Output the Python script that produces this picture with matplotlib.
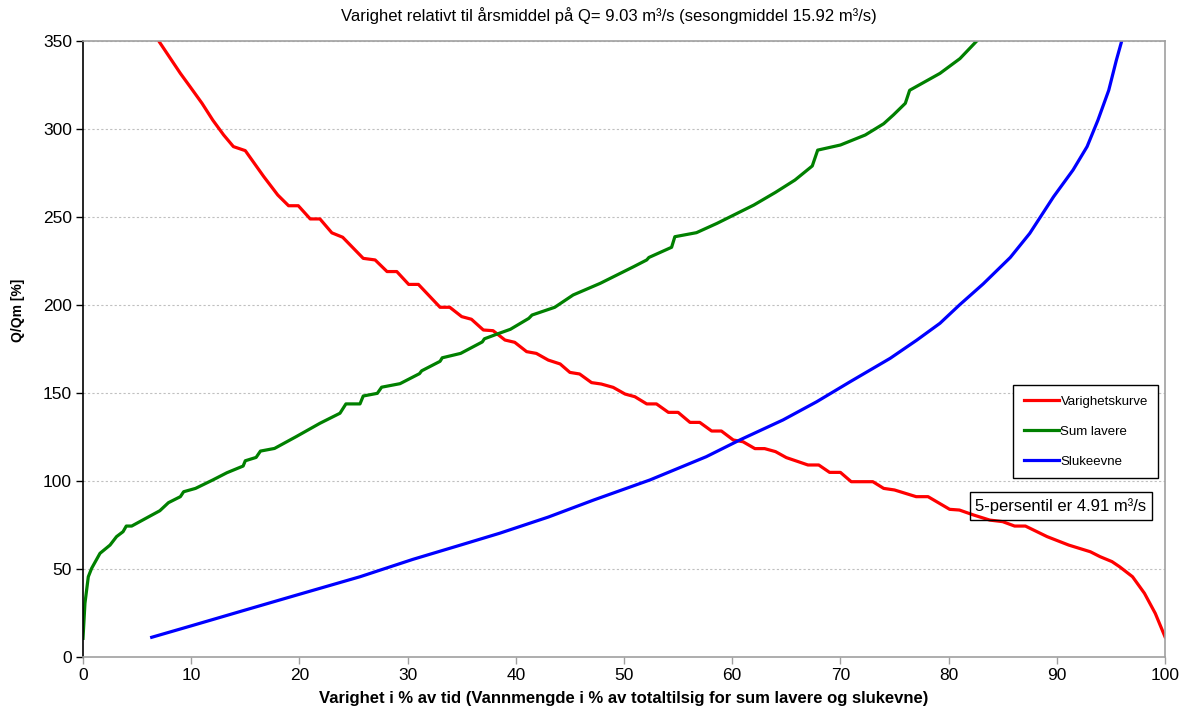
import matplotlib
matplotlib.use("Agg")
import matplotlib.pyplot as plt
from matplotlib import rcParams

rcParams['font.family'] = ['Liberation Sans', 'DejaVu Sans']

# Varighetskurve
red_x = [7.0, 9.0, 9.9, 11.0, 12.0, 13.0, 13.9, 15.0, 16.7, 18.0, 19.0, 19.9,
         21.0, 21.9, 23.0, 24.0, 25.9, 27.0, 28.1, 29.0, 30.1, 31.0, 33.0, 33.9,
         35.0, 35.9, 37.0, 37.9, 39.0, 39.9, 41.0, 41.9, 43.0, 44.1, 45.0, 45.9,
         47.0, 47.9, 49.0, 50.1, 51.0, 52.1, 53.0, 54.1, 55.0, 56.1, 57.0, 58.1,
         59.0, 60.1, 61.0, 62.1, 63.0, 64.0, 65.0, 66.1, 67.0, 68.0, 69.0, 70.0,
         71.0, 73.0, 74.0, 75.0, 77.0, 78.1, 80.1, 81.0, 82.3, 83.8, 85.0, 86.1,
         87.1, 89.1, 91.1, 93.1, 94.0, 95.1, 95.8, 97.0, 98.1, 99.1, 100.0]
red_y = [350, 331.6, 324, 314.6, 305, 296.6, 290, 287.7, 273, 262.5, 256.4, 256.4,
         248.9, 248.9, 241, 238.5, 226.5, 225.6, 219, 219, 211.7, 211.7, 198.7, 198.7,
         193.4, 191.9, 185.8, 185.4, 180.1, 178.8, 173.5, 172.5, 168.7, 166.5, 161.7, 160.8,
         155.9, 155.1, 153.2, 149.4, 147.9, 143.8, 143.8, 139, 139, 133.3, 133.3, 128.4,
         128.4, 123.3, 122.3, 118.4, 118.4, 116.7, 113.3, 111, 109.1, 109.1, 104.9, 104.9,
         99.6, 99.6, 95.8, 94.9, 91.1, 91.1, 83.9, 83.5, 80.7, 77.8, 76.9, 74.4,
         74.4, 68.4, 63.6, 59.8, 57, 54.2, 51.3, 45.6, 36.2, 24.8, 11.5]

# Sum lavere
green_x = [0.0, 0.18, 0.49, 0.8, 1.57, 2.5, 3.1, 3.7, 4.0, 4.5, 6.2, 7.1,
           7.9, 9.0, 9.3, 10.4, 12.0, 13.3, 14.8, 15.0, 16.0, 16.4, 17.7, 19.7,
           21.9, 23.75, 24.3, 25.6, 25.9, 27.2, 27.6, 29.3, 31.1, 31.3, 33.0, 33.2,
           34.9, 36.9, 37.1, 38.5, 39.5, 41.2, 41.5, 43.6, 45.3, 47.8, 50.9, 52.1,
           52.3, 54.4, 54.7, 56.7, 58.6, 62.0, 64.0, 65.8, 67.4, 67.9, 70.0, 72.3,
           74.0, 74.9, 76.0, 76.4, 79.2, 81.05, 82.6]
green_y = [10.6, 30.5, 45.6, 50.4, 58.9, 63.6, 68.4, 71.2, 74.4, 74.4, 80.1, 83.1,
           87.7, 91.1, 93.9, 95.8, 100.6, 104.7, 108.5, 111.5, 113.4, 117, 118.5, 125.2,
           132.8, 138.5, 143.8, 143.8, 148.3, 149.8, 153.3, 155.3, 161, 162.6, 168, 170,
           172.5, 179, 180.8, 184, 186.2, 192.4, 194.3, 198.7, 205.7, 212.3, 221.8, 225.6,
           227, 232.8, 238.8, 241.1, 246.4, 256.8, 264, 271, 279, 288, 290.9, 296.6,
           303, 308, 314.6, 322, 331.6, 340, 350]

# Slukeevne
blue_x = [6.35, 10, 15, 19.75, 25.6, 30.5, 35, 38.5, 43, 47.2, 52.4, 57.6,
          60.7, 64.7, 67.8, 70.9, 74.6, 77.05, 79.2, 81.0, 83.2, 85.7, 87.5,
          89.7, 91.5, 92.8, 93.8, 94.8, 95.5, 96.0]
blue_y = [11.2, 17.7, 26.7, 35.2, 45.6, 55.5, 63.8, 70.3, 79.5, 89.2, 100.6, 113.8,
          123.3, 134.7, 145, 156.4, 169.7, 180, 189.6, 200, 212, 227, 240.7,
          261.5, 276.7, 290, 305, 322, 339, 350]

x_ticks = list(range(0, 101, 10))
y_ticks = list(range(0, 351, 50))

fig = plt.figure(figsize=(11.9, 7.19), dpi=100)
ax = fig.add_axes([83 / 1190, 62 / 719, 1082 / 1190, 616 / 719])

ax.plot(red_x, red_y, color='#ff0000', lw=2.3, label='Varighetskurve', solid_joinstyle='round')
ax.plot(green_x, green_y, color='#008000', lw=2.3, label='Sum lavere', solid_joinstyle='round')
ax.plot(blue_x, blue_y, color='#0000ff', lw=2.3, label='Slukeevne', solid_joinstyle='round')

ax.set_xlim(0, 100)
ax.set_ylim(0, 350)
ax.set_xticks(x_ticks)
ax.set_yticks(y_ticks)
ax.tick_params(axis='both', labelsize=12.5, direction='out', length=5, width=1)
ax.tick_params(axis='x', colors='#a0a0a0', labelcolor='black', pad=3)
ax.tick_params(axis='y', colors='black', pad=3)

ax.yaxis.grid(True, color='#c0c0c0', linestyle=(0, (2, 2)), linewidth=0.8)
ax.set_axisbelow(True)

for side in ['top', 'right', 'bottom']:
    ax.spines[side].set_color('#a0a0a0')
    ax.spines[side].set_linewidth(1.2)
ax.spines['left'].set_color('black')
ax.spines['left'].set_linewidth(1.2)

fig.text(609 / 1190, 1 - 16 / 719,
         'Varighet relativt til årsmiddel på Q= 9.03 m³/s (sesongmiddel 15.92 m³/s)',
         ha='center', va='center', fontsize=12)
ax.set_xlabel('Varighet i % av tid (Vannmengde i % av totaltilsig for sum lavere og slukevne)',
              fontsize=12, fontweight='bold', labelpad=6)
fig.text(18 / 1190, 1 - 310 / 719, 'Q/Qm [%]', rotation=90, ha='center', va='center',
         fontsize=10, fontweight='bold')

leg = ax.legend(loc='upper left', bbox_to_anchor=((1013 - 83) / 1082, (657 - 385) / 616),
                borderaxespad=0, fontsize=9.5, handlelength=2.65, handletextpad=0.15,
                labelspacing=1.35, fancybox=False, framealpha=1, borderpad=0.8)
leg.get_frame().set_edgecolor('black')
leg.get_frame().set_linewidth(1.0)

ax.text((1061 - 83) / 1082, (657 - 506) / 616, '5-persentil er 4.91 m³/s',
        transform=ax.transAxes, ha='center', va='center', fontsize=12,
        bbox=dict(boxstyle='square,pad=0.35', facecolor='none', edgecolor='black', linewidth=1.0))

fig.savefig('out.png', dpi=100)
